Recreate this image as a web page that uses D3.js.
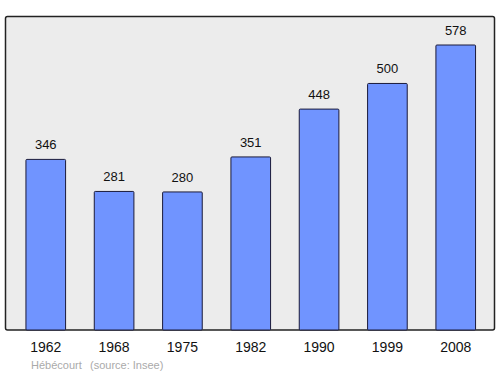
<!DOCTYPE html>
<html>
<head>
<meta charset="utf-8">
<script src="https://cdn.jsdelivr.net/npm/d3@7"></script>
<style>
  body { margin: 0; background: #fff; }
  text { font-family: "Liberation Sans", Arial, sans-serif; }
</style>
</head>
<body>
<svg id="chart" width="500" height="374"></svg>
<script>
var years = ["1962", "1968", "1975", "1982", "1990", "1999", "2008"];
var population = [346, 281, 280, 351, 448, 500, 578];
var town = "Hébécourt";
var source = "(source: Insee)";

var frame = {left: 5.5, top: 16.5, right: 494.5, bottom: 330};

var svg = d3.select("#chart");

// background panel
svg.append("rect")
    .attr("x", frame.left)
    .attr("y", frame.top)
    .attr("width", frame.right - frame.left)
    .attr("height", frame.bottom - frame.top)
    .attr("rx", 2)
    .attr("fill", "#ececec")
    .attr("stroke", "#222")
    .attr("stroke-width", 1.5);

var x = d3.scaleBand()
    .domain(years)
    .range([11.6, 489.9])
    .paddingInner(0.42)
    .paddingOuter(0.21);

var y = d3.scaleLinear()
    .domain([0, d3.max(population) * 1.1])
    .range([frame.bottom, frame.top]);

var data = years.map(function(d, i){
    return {year: d, value: population[i]};
});

svg.selectAll("rect.bar")
    .data(data)
    .enter()
    .append("rect")
    .attr("class", "bar")
    .attr("x", function(d){ return x(d.year); })
    .attr("y", function(d){ return y(d.value); })
    .attr("width", x.bandwidth())
    .attr("height", function(d){ return frame.bottom - y(d.value); })
    .attr("rx", 1)
    .attr("fill", "#7094ff")
    .attr("stroke", "#1a1a3a")
    .attr("stroke-width", 1);

// value labels
svg.selectAll("text.val")
    .data(data)
    .enter()
    .append("text")
    .attr("class", "val")
    .attr("x", function(d){ return x(d.year) + x.bandwidth() / 2; })
    .attr("y", function(d){ return y(d.value) - 10; })
    .attr("text-anchor", "middle")
    .attr("font-size", 13)
    .attr("fill", "#111")
    .text(function(d){ return d.value; });

// year labels
svg.selectAll("text.year")
    .data(data)
    .enter()
    .append("text")
    .attr("class", "year")
    .attr("x", function(d){ return x(d.year) + x.bandwidth() / 2; })
    .attr("y", 352)
    .attr("text-anchor", "middle")
    .attr("font-size", 14)
    .attr("fill", "#111")
    .text(function(d){ return d.year; });

svg.append("text")
    .attr("x", 31)
    .attr("y", 369)
    .attr("font-size", 11)
    .attr("fill", "#aaa")
    .text(town);

svg.append("text")
    .attr("x", 90)
    .attr("y", 369)
    .attr("font-size", 11)
    .attr("fill", "#aaa")
    .text(source);
</script>
</body>
</html>
